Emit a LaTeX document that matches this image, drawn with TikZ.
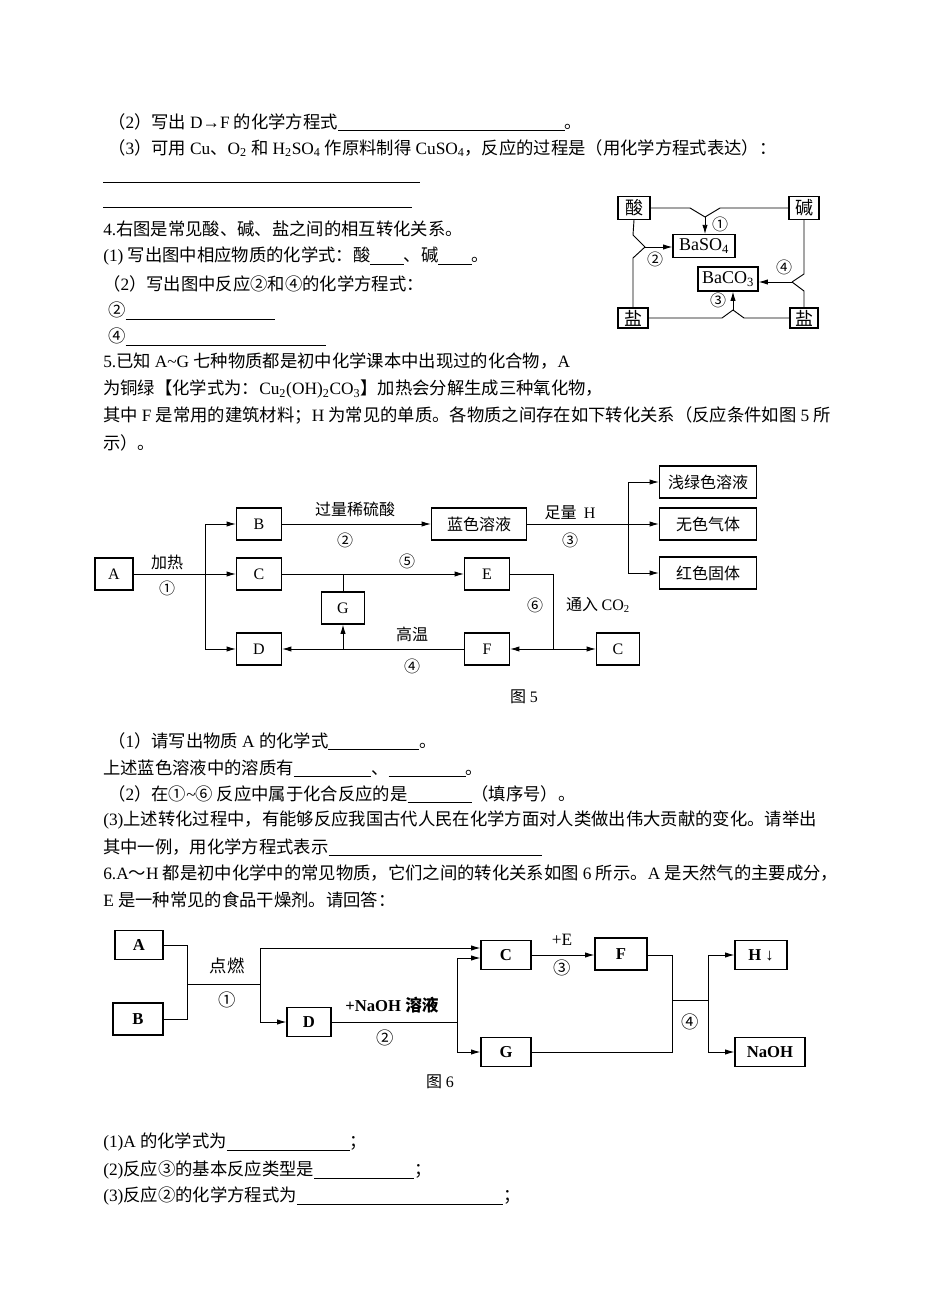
\documentclass[tikz,border=0pt]{standalone}
\usepackage{fontspec}
\setmainfont{Liberation Serif}
\newfontfamily\cjk{Noto Sans CJK SC}
\newfontfamily\latn{Liberation Serif}
\XeTeXinterchartokenstate=1
\newXeTeXintercharclass\CJKcls
\makeatletter
\def\setcls#1#2{\count@=#1\relax\loop\XeTeXcharclass\count@=\CJKcls\advance\count@ 1\relax\ifnum\count@<#2\repeat}
\setcls{"4E00}{"A000}
\setcls{"3000}{"3040}
\setcls{"FF00}{"FFF0}
\setcls{"2460}{"24A0}
\makeatother
\XeTeXinterchartoks 0 \CJKcls = {\cjk}
\XeTeXinterchartoks 4095 \CJKcls = {\cjk}
\XeTeXinterchartoks \CJKcls 0 = {\latn}
\XeTeXinterchartoks 4095 0 = {\latn}
\usetikzlibrary{arrows.meta}
\newcommand{\blank}[1]{\rule[-2pt]{#1pt}{0.5pt}}
\begin{document}
\begin{tikzpicture}[x=0.75pt,y=-0.75pt,
  txt/.style={anchor=west,inner sep=0pt,font=\fontsize{13}{14}\selectfont},
  bx/.style={draw,line width=0.8pt,minimum width=#1*0.75pt,minimum height=24pt,inner sep=1pt,font=\fontsize{12}{13}\selectfont},
  bx/.default=45,
  fb/.style={font=\fontsize{13.5}{14}\selectfont},
  lab/.style={inner sep=0pt,font=\fontsize{12}{13}\selectfont},
  ln/.style={line width=0.7pt},
  ar/.style={line width=0.7pt,-{Latex[length=7pt,width=4pt]}}]
\useasboundingbox (0,0) rectangle (950,1316);
% text block top
\node[txt] (t1) at (108,122) {（2）写出 D\textbf{→}F 的化学方程式\blank{170}。};
\node[txt] (t2) at (108,148) {（3）可用 Cu、O\textsubscript{2} 和 H\textsubscript{2}SO\textsubscript{4} 作原料制得 CuSO\textsubscript{4}，反应的过程是（用化学方程式表达）：};
\coordinate (u1a) at (103,182); \coordinate (u1b) at (420,182);
\draw[ln] (u1a) -- (u1b);
\coordinate (u2a) at (103,207); \coordinate (u2b) at (412,207);
\draw[ln] (u2a) -- (u2b);
\node[txt] (t3) at (103,229) {4.右图是常见酸、碱、盐之间的相互转化关系。};
\node[txt] (t4) at (103,256) {(1) 写出图中相应物质的化学式：酸\blank{25}、碱\blank{25}。};
\node[txt] (t5) at (103,284) {（2）写出图中反应②和④的化学方程式：};
\node[txt] (t6) at (108,311) {②\blank{112}};
\node[txt] (t7) at (108,337) {④\blank{150}};
\node[txt] (t8) at (103,361) {5.已知 A\textasciitilde G 七种物质都是初中化学课本中出现过的化合物，A};
\node[txt] (t9) at (103,389) {为铜绿【化学式为：Cu\textsubscript{2}(OH)\textsubscript{2}CO\textsubscript{3}】加热会分解生成三种氧化物，};
\node[txt] (t10) at (103,415) {其中 F 是常用的建筑材料；H 为常见的单质。各物质之间存在如下转化关系（反应条件如图 5 所};
\node[txt] (t11) at (103,443) {示）。};
% figure 4
\node[bx=32,minimum height=17pt,fb] (suan) at (634,208) {酸};
\node[bx=30,minimum height=17pt,fb] (jian) at (804,208) {碱};
\node[bx=62,minimum height=17pt,fb] (baso) at (704,246) {BaSO\textsubscript{4}};
\node[bx=60,minimum height=18pt,fb] (baco) at (728,279) {BaCO\textsubscript{3}};
\node[bx=30,minimum height=15pt,fb] (yan1) at (633,318) {盐};
\node[bx=28,minimum height=15pt,fb] (yan2) at (804,318) {盐};
\coordinate (j1) at (705,217); \coordinate (j2) at (645,247);
\coordinate (j4) at (792,282); \coordinate (j3) at (733,310);
\draw[ln] (suan.east) -- (690,208) -- (j1);
\draw[ln] (jian.west) -- (720,208) -- (j1);
\draw[ar] (j1) -- (baso.north-|j1);
\draw[ln] (suan.south) -- (633,235) -- (j2);
\draw[ln] (yan1.north) -- (633,258) -- (j2);
\draw[ar] (j2) -- (baso.west|-j2);
\draw[ln] (jian.south) -- (804,274) -- (j4);
\draw[ln] (yan2.north) -- (804,291) -- (j4);
\draw[ar] (j4) -- (baco.east|-j4);
\draw[ln] (yan1.east) -- (722,318) -- (j3);
\draw[ln] (yan2.west) -- (744,318) -- (j3);
\draw[ar] (j3) -- (baco.south-|j3);
\node[lab] (c1) at (720,224) {①};
\node[lab] (c2) at (655,259) {②};
\node[lab] (c4) at (784,267) {④};
\node[lab] (c3) at (718,300) {③};
% figure 5
\node[bx=38] (A) at (114,574) {A};
\node[bx] (B) at (259,524) {B};
\node[bx=95] (lan) at (479,524) {蓝色溶液};
\node[bx=97] (qian) at (708,482) {浅绿色溶液};
\node[bx=97] (wu) at (708,524) {无色气体};
\node[bx=97] (hong) at (708,573) {红色固体};
\node[bx] (C) at (259,574) {C};
\node[bx] (E) at (487,574) {E};
\node[bx=43] (G) at (343,608) {G};
\node[bx] (D) at (259,649) {D};
\node[bx] (F) at (487,649) {F};
\node[bx=43] (C2) at (618,649) {C};
\coordinate (k1) at (205,574);
\draw[ln] (A.east) -- (k1);
\draw[ln] (205,524) -- (205,649);
\draw[ar] (205,524) -- (B.west);
\draw[ar] (k1) -- (C.west);
\draw[ar] (205,649) -- (D.west);
\draw[ar] (B.east) -- (lan.west);
\coordinate (k2) at (628,524);
\draw[ln] (lan.east) -- (k2);
\draw[ln] (628,482) -- (628,573);
\draw[ar] (628,482) -- (qian.west);
\draw[ar] (k2) -- (wu.west);
\draw[ar] (628,573) -- (hong.west);
\draw[ar] (C.east) -- (E.west);
\draw[ln] (G.north) -- (G.north|-C.east);
\coordinate (k3) at (553,649);
\draw[ln] (E.east) -- (553,574) -- (k3);
\draw[ar] (k3) -- (F.east);
\draw[ar] (k3) -- (C2.west);
\draw[ar] (F.west) -- (D.east);
\draw[ar] (G.south|-F.west) -- (G.south);
\node[lab] at (167,562) {加热};
\node[lab] at (167,588) {①};
\node[lab] at (355,509) {过量稀硫酸};
\node[lab] at (345,540) {②};
\node[lab] at (570,513) {足量\ \ H};
\node[lab] at (570,540) {③};
\node[lab] at (407,561) {⑤};
\node[lab] at (535,605) {⑥};
\node[lab] at (598,605) {通入 CO\textsubscript{2}};
\node[lab] at (412,634) {高温};
\node[lab] at (412,666) {④};
\node[lab] (f5) at (524,697) {图 5};
% questions 5
\node[txt] (q1) at (108,741) {（1）请写出物质 A 的化学式\blank{68}。};
\node[txt] (q2) at (103,768) {上述蓝色溶液中的溶质有\blank{58}、\blank{58}。};
\node[txt] (q3) at (108,794) {（2）在①\textasciitilde⑥ 反应中属于化合反应的是\blank{48}（填序号）。};
\node[txt] (q4) at (103,820) {(3)上述转化过程中，有能够反应我国古代人民在化学方面对人类做出伟大贡献的变化。请举出};
\node[txt] (q5) at (103,847) {其中一例，用化学方程式表示\blank{160}};
\node[txt] (q6) at (103,873) {6.A～H 都是初中化学中的常见物质，它们之间的转化关系如图 6 所示。A 是天然气的主要成分，};
\node[txt] (q7) at (103,900) {E 是一种常见的食品干燥剂。请回答：};
% figure 6
\tikzset{b6/.style={font=\bfseries\fontsize{12.5}{13}\selectfont}}
\node[bx=48,minimum height=22pt,b6] (a6) at (139,945) {A};
\node[bx=50,minimum height=24pt,b6] (b6) at (138,1019) {B};
\node[bx=50,minimum height=22pt,b6] (c6) at (506,955) {C};
\node[bx=52,minimum height=24pt,b6] (f6) at (621,954) {F};
\node[bx=52,minimum height=22pt,b6] (h6) at (761,955) {H ↓};
\node[bx=44,minimum height=22pt,b6] (d6) at (309,1022) {D};
\node[bx=50,minimum height=22pt,b6] (g6) at (506,1052) {G};
\node[bx=70,minimum height=22pt,b6] (n6) at (770,1052) {NaOH};
\coordinate (m1) at (187,984);
\draw[ln] (a6.east) -- (187,945) -- (187,1019) -- (b6.east);
\draw[ln] (m1) -- (260,984);
\draw[ln] (260,948) -- (260,1022);
\draw[ar] (260,948) -- (c6.west|-260,948);
\draw[ar] (260,1022) -- (d6.west);
\draw[ln] (d6.east) -- (457,1022);
\draw[ln] (457,958) -- (457,1052);
\draw[ar] (457,958) -- (c6.west|-457,958);
\draw[ar] (457,1052) -- (g6.west);
\draw[ar] (c6.east) -- (f6.west|-c6.east);
\draw[ln] (f6.east|-c6.east) -- (672,955) -- (672,1052) -- (g6.east);
\draw[ln] (672,1000) -- (708,1000);
\draw[ln] (708,955) -- (708,1052);
\draw[ar] (708,955) -- (h6.west);
\draw[ar] (708,1052) -- (n6.west);
\node[lab,font=\fontsize{13}{13}\selectfont] at (227,966) {点燃};
\node[lab,font=\fontsize{13}{13}\selectfont] at (227,1000) {①};
\node[lab,font=\bfseries\fontsize{12.5}{13}\selectfont] at (392,1005) {+NaOH 溶液};
\node[lab,font=\fontsize{13}{13}\selectfont] at (385,1038) {②};
\node[lab,font=\fontsize{13}{13}\selectfont] at (562,940) {+E};
\node[lab,font=\fontsize{13}{13}\selectfont] at (562,968) {③};
\node[lab,font=\fontsize{13}{13}\selectfont] at (690,1022) {④};
\node[lab] (f6t) at (440,1082) {图 6};
% questions 6
\node[txt] (r1) at (103,1142) {(1)A 的化学式为\blank{92}；};
\node[txt] (r2) at (103,1170) {(2)反应③的基本反应类型是\blank{75}；};
\node[txt] (r3) at (103,1196) {(3)反应②的化学方程式为\blank{155}；};
\end{tikzpicture}
\end{document}
